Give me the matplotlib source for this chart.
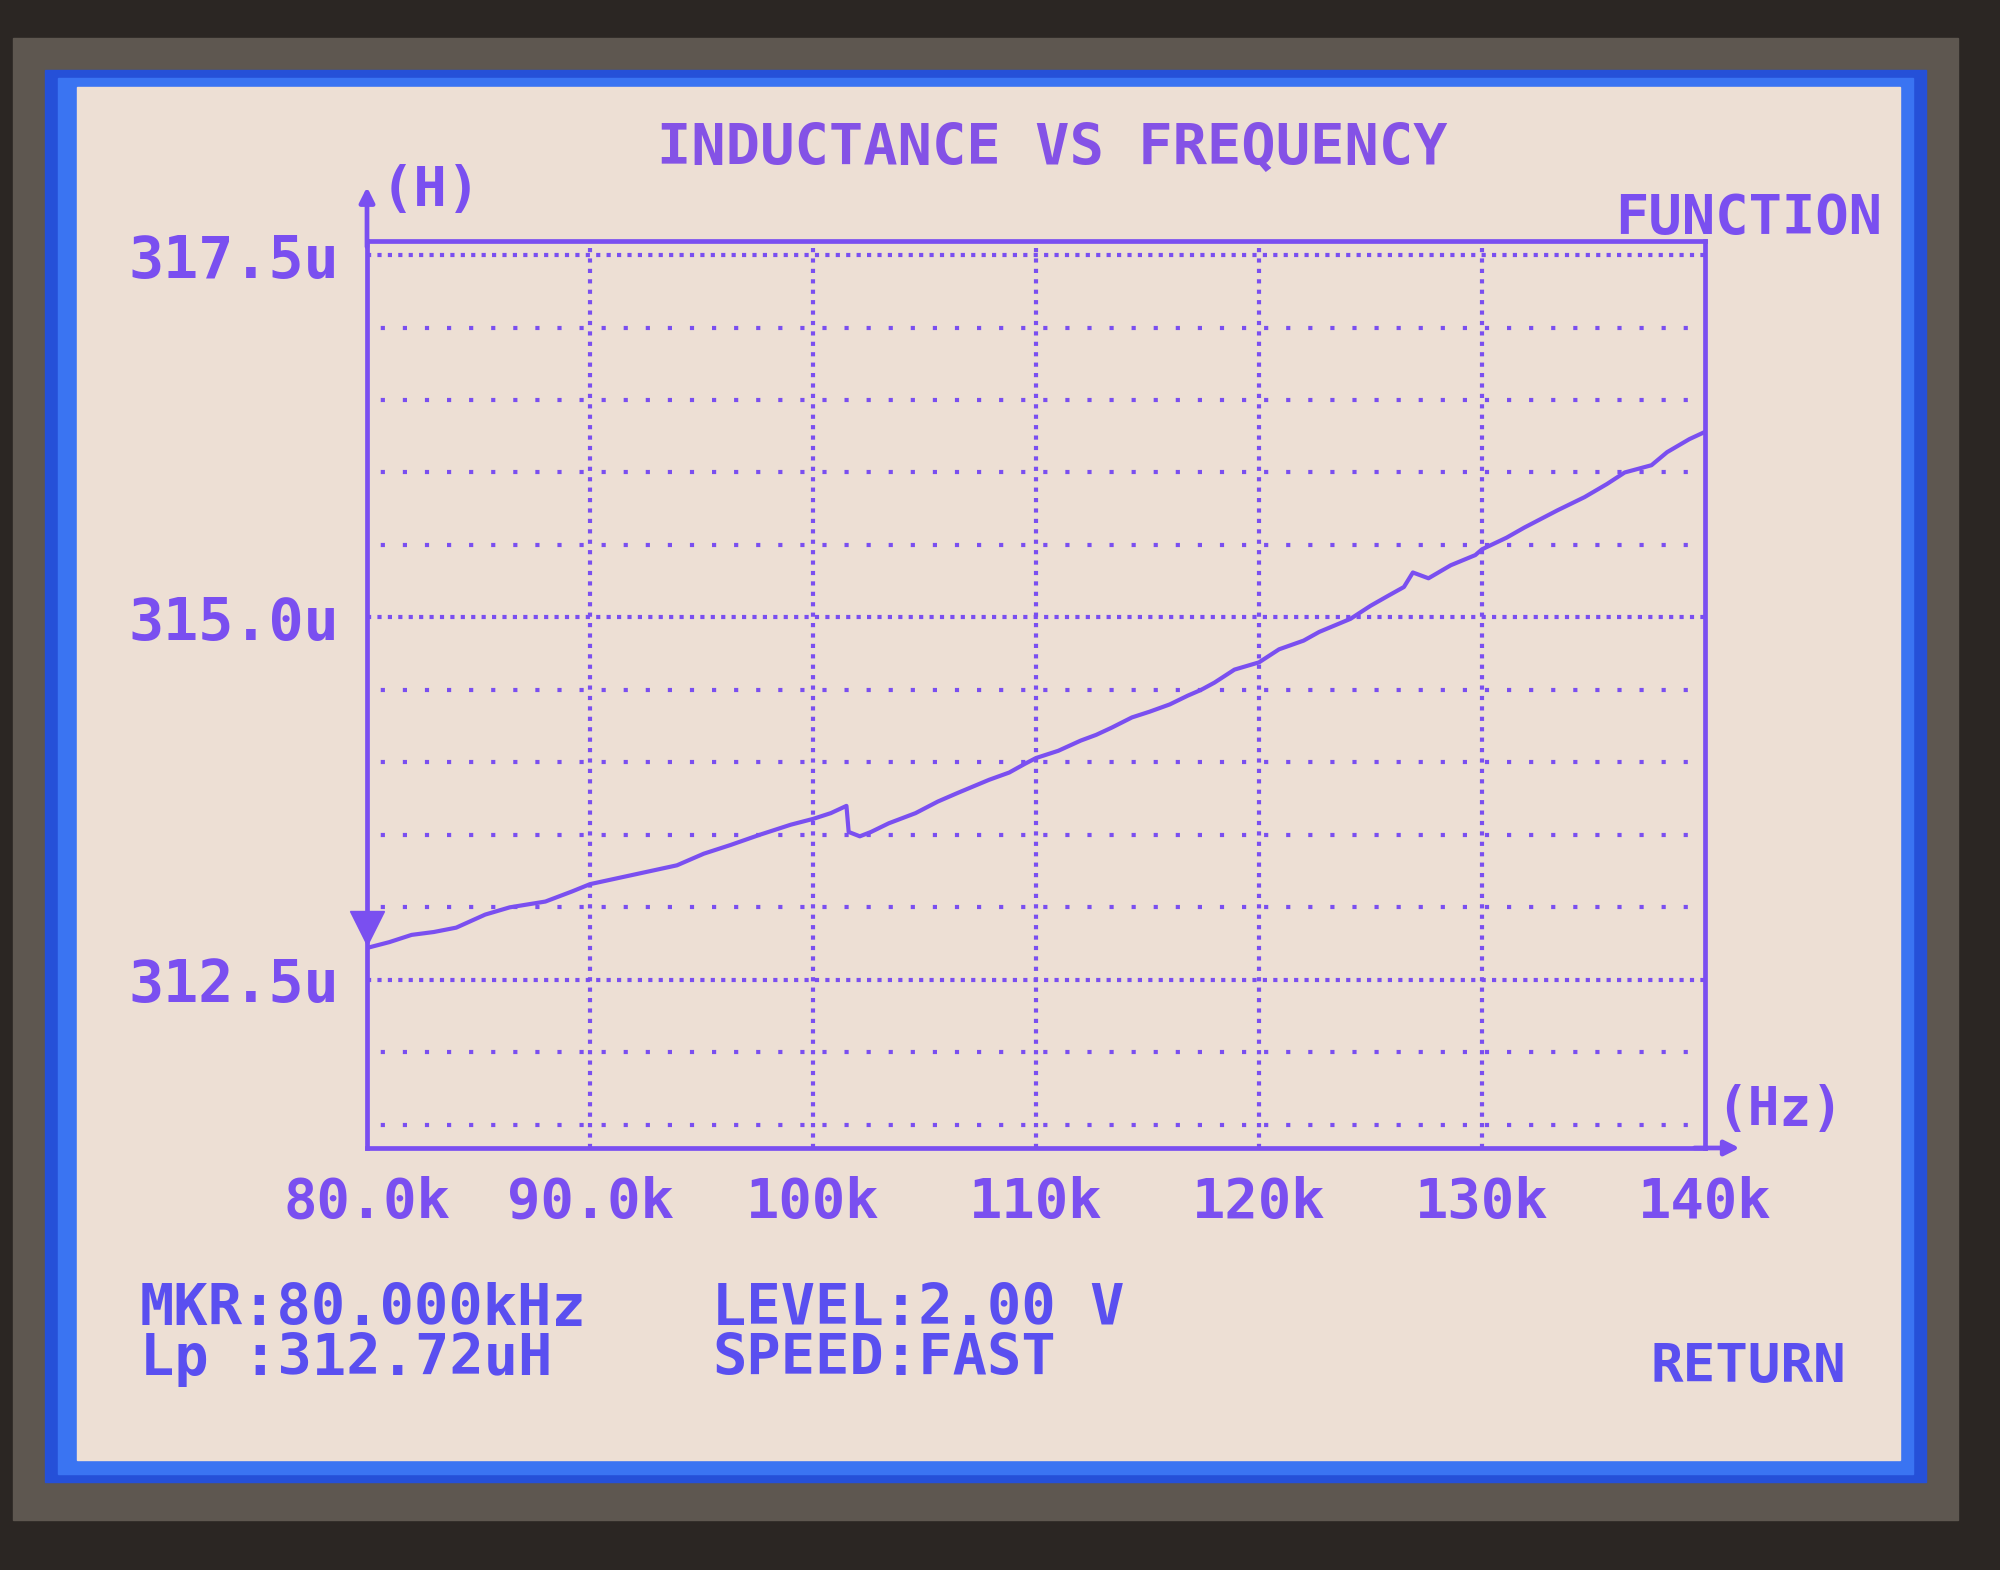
# LCR meter screen: inductance vs frequency sweep
import matplotlib.pyplot as plt
from matplotlib.patches import Rectangle
from matplotlib.transforms import ScaledTranslation

# trace (kHz, uH)
freq_khz = [80.0, 81.0, 82.0, 83.0, 84.0, 85.3, 86.4, 88.0, 89.2, 90.0,
            91.2, 92.7, 93.9, 95.1, 96.3, 97.6, 99.0, 100.0, 100.8, 101.5,
            101.6, 102.1, 102.6, 103.4, 104.6, 105.6, 106.5, 107.9, 108.8, 109.5,
            110.0, 111.0, 112.0, 112.7, 113.4, 114.3, 115.1, 116.0, 116.8, 117.4,
            118.0, 118.9, 120.0, 120.9, 122.0, 122.7, 124.1, 125.0, 125.8, 126.5,
            126.9, 127.6, 128.6, 129.7, 130.0, 131.1, 131.9, 133.4, 134.6, 135.6,
            136.4, 137.6, 138.3, 139.3, 140.0]
induct_uh = [312.72, 312.76, 312.81, 312.83, 312.86, 312.95, 313.00, 313.04, 313.11, 313.16,
             313.20, 313.25, 313.29, 313.37, 313.43, 313.50, 313.57, 313.61, 313.65, 313.70,
             313.52, 313.49, 313.52, 313.58, 313.65, 313.73, 313.79, 313.88, 313.93, 313.99,
             314.03, 314.08, 314.15, 314.19, 314.24, 314.31, 314.35, 314.40, 314.46, 314.50,
             314.55, 314.64, 314.69, 314.78, 314.84, 314.90, 314.99, 315.08, 315.15, 315.21,
             315.31, 315.27, 315.36, 315.43, 315.47, 315.55, 315.62, 315.74, 315.83, 315.92,
             316.00, 316.05, 316.14, 316.23, 316.28]

x_ticks = [80, 90, 100, 110, 120, 130, 140]
x_ticklabels = ["80.0k", "90.0k", "100k", "110k", "120k", "130k", "140k"]
x_grid = [90, 100, 110, 120, 130]
y_ticks = [312.5, 315.0, 317.5]
y_ticklabels = ["312.5u", "315.0u", "317.5u"]
minor_rows = [311.5, 312.0, 313.0, 313.5, 314.0, 314.5, 315.5, 316.0, 316.5, 317.0]

mkr_freq = 80.0
mkr_value = 312.72
level_v = 2.00
speed = "FAST"

PURPLE = "#7a4ff0"
BLUE_TXT = "#5a4ff0"
SCREEN = "#eddfd4"
FONT = "DejaVu Sans Mono"

fig = plt.figure(figsize=(20, 15.7), dpi=100)
fig.patch.set_facecolor("#2b2623")

# the instrument bezel and LCD panel, in pixel coords
bg = fig.add_axes([0, 0, 1, 1], zorder=0)
bg.set_xlim(0, 2000)
bg.set_ylim(1570, 0)
bg.axis("off")
bg.add_patch(Rectangle((13, 38), 1945, 1482, color="#5e5750"))
bg.add_patch(Rectangle((45, 70), 1881, 1412, color="#2550d8"))
bg.add_patch(Rectangle((58, 78), 1855, 1396, color="#3a74f2"))
bg.add_patch(Rectangle((77, 87), 1823, 1373, color=SCREEN))

ax = fig.add_axes([0.1835, 0.2688, 0.669, 0.578], zorder=2)
ax.set_facecolor("none")
ax.set_xlim(80, 140)
ax.set_ylim(311.34, 317.6)

# grid: dense dotted on major rows and frequency lines, sparse dots on minor rows
for y in y_ticks:
    ax.axhline(y, color=PURPLE, lw=3, linestyle=(0, (1, 1.5)), zorder=1)
for y in minor_rows:
    ax.axhline(y, color=PURPLE, lw=3, linestyle=(2, (1, 4.3)), zorder=1)
for x in x_grid:
    ax.axvline(x, color=PURPLE, lw=3, linestyle=(0, (1, 1.5)), zorder=1)

ax.plot(freq_khz, induct_uh, color=PURPLE, lw=3, zorder=3)

# marker triangle sits just above the trace
shift = ax.transData + ScaledTranslation(0, 0.2, fig.dpi_scale_trans)
ax.plot([mkr_freq], [mkr_value], marker="v", markersize=24, color=PURPLE,
        transform=shift, clip_on=False, zorder=4)

for side in ["left", "right", "top", "bottom"]:
    ax.spines[side].set_color(PURPLE)
    ax.spines[side].set_linewidth(3.4)

ax.set_xticks(x_ticks)
ax.set_xticklabels(x_ticklabels)
ax.set_yticks(y_ticks)
ax.set_yticklabels(y_ticklabels)
ax.tick_params(length=0, colors=PURPLE)
ax.tick_params(axis="x", pad=20, labelsize=40)
ax.tick_params(axis="y", pad=20, labelsize=42)
for lab in ax.get_xticklabels() + ax.get_yticklabels():
    lab.set_family(FONT)
    lab.set_weight("bold")

# axis arrows
arrow = dict(arrowstyle="-|>", color=PURPLE, lw=3.4, mutation_scale=22)
ax.annotate("", xy=(0, 1.062), xytext=(0, 0.99), xycoords="axes fraction",
            arrowprops=arrow, annotation_clip=False)
ax.annotate("", xy=(1.028, 0), xytext=(0.99, 0), xycoords="axes fraction",
            arrowprops=arrow, annotation_clip=False)
ax.text(0.01, 1.055, "(H)", transform=ax.transAxes, color=PURPLE, fontsize=40,
        family=FONT, weight="bold", va="center", ha="left")
ax.text(1.008, 0.042, "(Hz)", transform=ax.transAxes, color=PURPLE, fontsize=38,
        family=FONT, weight="bold", va="center", ha="left")

fig.text(0.526, 0.905, "INDUCTANCE VS FREQUENCY", color="#8452e6", fontsize=41,
         family=FONT, weight="bold", ha="center", va="center")
fig.text(0.941, 0.861, "FUNCTION", color=PURPLE, fontsize=40,
         family=FONT, weight="bold", ha="right", va="center")

fig.text(0.07, 0.166, f"MKR:{mkr_freq:.3f}kHz", color=BLUE_TXT, fontsize=41,
         family=FONT, weight="bold", ha="left", va="center")
fig.text(0.07, 0.134, f"Lp :{mkr_value:.2f}uH", color=BLUE_TXT, fontsize=41,
         family=FONT, weight="bold", ha="left", va="center")
fig.text(0.356, 0.166, f"LEVEL:{level_v:.2f} V", color=BLUE_TXT, fontsize=41,
         family=FONT, weight="bold", ha="left", va="center")
fig.text(0.356, 0.134, f"SPEED:{speed}", color=BLUE_TXT, fontsize=41,
         family=FONT, weight="bold", ha="left", va="center")
fig.text(0.923, 0.129, "RETURN", color=BLUE_TXT, fontsize=39,
         family=FONT, weight="bold", ha="right", va="center")

fig.savefig("out.png", dpi=100, facecolor=fig.get_facecolor())
